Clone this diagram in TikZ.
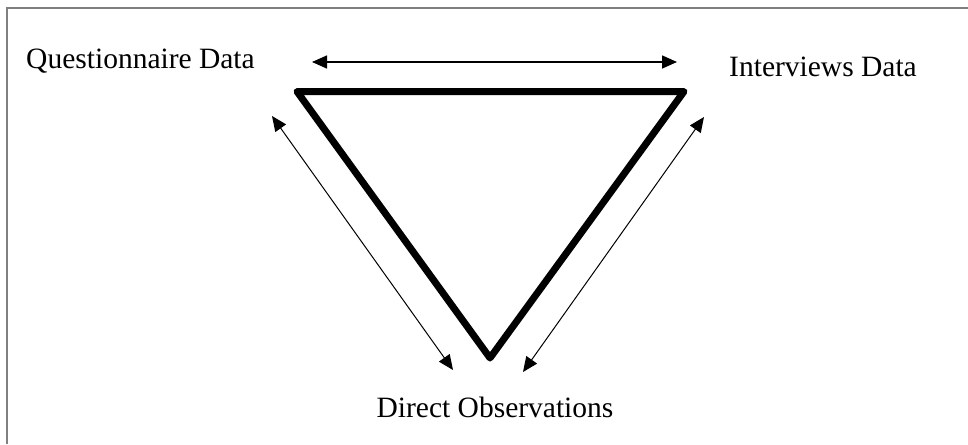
\documentclass[tikz,border=0pt]{standalone}
\usepackage{fontspec}
\setmainfont{Liberation Serif}
\usetikzlibrary{arrows.meta}

\begin{document}
\begin{tikzpicture}[
  x=1pt,y=-1pt,
  font=\fontsize{29.5}{35}\selectfont,
  lbl/.style={inner sep=0pt,anchor=base},
  tri/.style={line width=7pt,line join=round},
  dbl/.style={<->,line width=1pt},
  frm/.style={line width=2pt,draw={rgb,255:red,128;green,128;blue,128}},
  >={Triangle[length=15pt,width=13pt]}]
  \useasboundingbox (0,0) rectangle (968,444);
  \draw[frm] (7,444) -- (7,8.5) -- (968,8.5);
  % triangle corners
  \coordinate (q) at (297,91.5);
  \coordinate (i) at (684,91.5);
  \coordinate (o) at (490,358);
  \draw[tri] (q) -- (i) -- (o) -- cycle;
  % labels
  \node[lbl] (quest) at (140.5,68) {Questionnaire Data};
  \node[lbl] (inter) at (823,77) {Interviews Data};
  \node[lbl] (obs) at (495,417) {Direct Observations};
  % arrow ends
  \coordinate (qi1) at (312,62);
  \coordinate (qi2) at (677,62);
  \coordinate (qo1) at (272,116);
  \coordinate (qo2) at (453,370);
  \coordinate (io1) at (704,117);
  \coordinate (io2) at (523,372);
  \draw[dbl,line width=1.5pt] (qi1) -- (qi2);
  \draw[dbl] (qo1) -- (qo2);
  \draw[dbl] (io1) -- (io2);
\end{tikzpicture}
\end{document}
